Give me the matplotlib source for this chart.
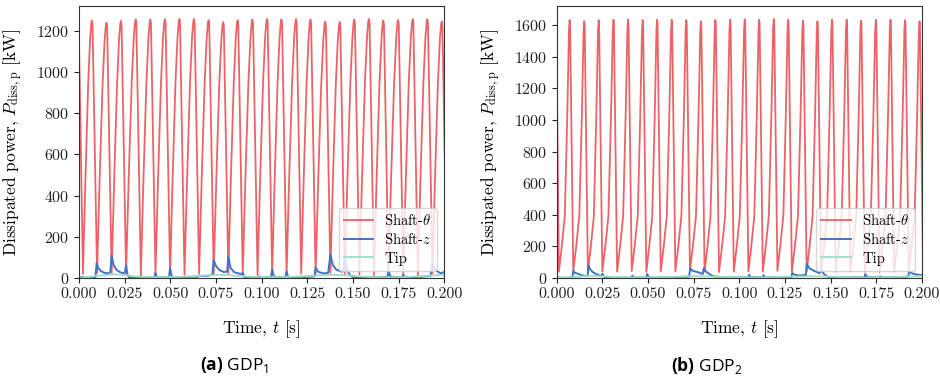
import matplotlib
matplotlib.use("Agg")
import matplotlib.pyplot as plt
import numpy as np

plt.rcParams["font.family"] = "serif"
plt.rcParams["font.serif"] = ["cmr10"]
plt.rcParams["mathtext.fontset"] = "cm"
plt.rcParams["mathtext.rm"] = "Open Sans"
plt.rcParams["mathtext.bf"] = "Open Sans:bold"
plt.rcParams["axes.formatter.use_mathtext"] = True

# ---- data ----
# Shaft-theta: peak instants are shared by both designs
peak_t = [0.0071, 0.0151, 0.0230, 0.0311, 0.0391, 0.0471, 0.0550, 0.0630, 0.0710,
          0.0790, 0.0869, 0.0950, 0.1030, 0.1109, 0.1189, 0.1268, 0.1349, 0.1428,
          0.1508, 0.1588, 0.1667, 0.1748, 0.1828, 0.1908, 0.1987]

# GDP1
gdp1_start = 1160
gdp1_peak = [1250, 1240, 1248, 1255, 1255, 1257, 1258, 1258, 1252, 1242, 1252, 1255, 1258,
             1255, 1257, 1255, 1245, 1243, 1255, 1258, 1250, 1253, 1256, 1256, 1246]
gdp1_trough_t = [0.0022, 0.0099, 0.0179, 0.0258, 0.0339, 0.0419, 0.0499, 0.0578, 0.0658,
                 0.0738, 0.0818, 0.0897, 0.0978, 0.1058, 0.1137, 0.1217, 0.1296, 0.1377,
                 0.1456, 0.1536, 0.1616, 0.1695, 0.1776, 0.1856, 0.1936, 0.2015]
gdp1_trough = [20, 25, 18, 22, 15, 20, 18, 15, 20, 22, 20, 18, 15,
               20, 18, 22, 20, 25, 15, 18, 15, 20, 18, 15, 22, 20]
# shape of one cycle: (fraction of rise/fall time, fraction of peak height)
gdp1_rise_shape = [(0.27, 0.37), (0.58, 0.75), (0.80, 0.93), (0.93, 0.99)]
gdp1_fall_shape = [(0.12, 0.985)]

gdp1_z_t = [0.0, 0.0020, 0.0026, 0.0090, 0.0097, 0.0105, 0.0120, 0.0140, 0.0160, 0.0172,
            0.0179, 0.0190, 0.0205, 0.0225, 0.0245, 0.0252, 0.0258, 0.0266, 0.0275, 0.0335,
            0.0339, 0.0345, 0.0413, 0.0419, 0.0426, 0.0493, 0.0499, 0.0508, 0.0520, 0.0578,
            0.0585, 0.0650, 0.0658, 0.0700, 0.0730, 0.0738, 0.0750, 0.0770, 0.0795, 0.0812,
            0.0818, 0.0830, 0.0850, 0.0890, 0.0897, 0.0905, 0.0920, 0.0978, 0.0985, 0.1000,
            0.1052, 0.1058, 0.1066, 0.1080, 0.1130, 0.1137, 0.1145, 0.1210, 0.1217, 0.1225,
            0.1290, 0.1296, 0.1310, 0.1340, 0.1365, 0.1377, 0.1390, 0.1410, 0.1440, 0.1450,
            0.1456, 0.1468, 0.1485, 0.1500, 0.1536, 0.1545, 0.1610, 0.1616, 0.1625, 0.1690,
            0.1695, 0.1705, 0.1720, 0.1770, 0.1776, 0.1785, 0.1850, 0.1856, 0.1865, 0.1925,
            0.1936, 0.1950, 0.1970, 0.1985, 0.2000]
gdp1_z = [2, 5, 2, 3, 72, 50, 33, 25, 22, 30,
          110, 62, 40, 28, 22, 30, 62, 15, 3, 3,
          10, 3, 3, 25, 4, 4, 48, 8, 3, 3,
          5, 6, 10, 10, 15, 88, 58, 38, 28, 32,
          104, 50, 28, 18, 25, 5, 3, 4, 8, 3,
          5, 42, 10, 4, 4, 32, 5, 4, 8, 4,
          8, 50, 30, 22, 25, 115, 62, 40, 30, 40,
          95, 40, 12, 4, 3, 3, 3, 6, 3, 5,
          38, 8, 4, 4, 15, 4, 4, 8, 5, 10,
          68, 40, 28, 22, 30]

gdp1_tip_t = [0.0, 0.005, 0.010, 0.015, 0.020, 0.025, 0.030, 0.035, 0.045, 0.055, 0.062,
              0.068, 0.075, 0.082, 0.088, 0.095, 0.105, 0.115, 0.122, 0.130, 0.138, 0.145,
              0.152, 0.160, 0.170, 0.180, 0.188, 0.195, 0.200]
gdp1_tip = [0, 4, 10, 15, 18, 15, 8, 5, 4, 5, 8,
            12, 15, 14, 9, 5, 4, 5, 8, 12, 15, 14,
            9, 4, 3, 5, 9, 13, 16]

# GDP2
gdp2_start = 1390
gdp2_peak = [1632, 1624, 1632, 1634, 1634, 1632, 1634, 1634, 1632, 1624, 1632, 1634, 1636,
             1634, 1639, 1634, 1628, 1624, 1634, 1634, 1628, 1634, 1634, 1632, 1624]
gdp2_trough_t = [0.0012, 0.0091, 0.0171, 0.0250, 0.0331, 0.0411, 0.0491, 0.0570, 0.0650,
                 0.0730, 0.0810, 0.0889, 0.0970, 0.1050, 0.1129, 0.1209, 0.1288, 0.1369,
                 0.1448, 0.1528, 0.1608, 0.1687, 0.1768, 0.1848, 0.1928, 0.2007]
gdp2_trough = [40, 45, 38, 42, 40, 44, 38, 40, 42, 45, 40, 38, 40,
               42, 40, 45, 40, 42, 38, 40, 42, 40, 38, 40, 42, 40]
gdp2_rise_shape = [(0.27, 0.10), (0.55, 0.22), (0.78, 0.62), (0.94, 0.96)]
gdp2_fall_shape = [(0.12, 0.985)]

gdp2_z_t = [0.0, 0.0012, 0.0020, 0.0085, 0.0092, 0.0100, 0.0115, 0.0135, 0.0160, 0.0170,
            0.0174, 0.0185, 0.0200, 0.0225, 0.0245, 0.0250, 0.0258, 0.0270, 0.0411, 0.0415,
            0.0422, 0.0491, 0.0495, 0.0505, 0.0520, 0.0650, 0.0660, 0.0725, 0.0732, 0.0745,
            0.0770, 0.0800, 0.0806, 0.0818, 0.0840, 0.0860, 0.0889, 0.0895, 0.1050, 0.1054,
            0.1062, 0.1129, 0.1133, 0.1140, 0.1285, 0.1290, 0.1300, 0.1330, 0.1365, 0.1370,
            0.1385, 0.1410, 0.1440, 0.1448, 0.1460, 0.1480, 0.1500, 0.1687, 0.1690, 0.1700,
            0.1768, 0.1772, 0.1780, 0.1925, 0.1930, 0.1945, 0.1970, 0.2000]
gdp2_z = [1, 3, 1, 2, 45, 32, 28, 18, 12, 15,
          80, 52, 35, 20, 12, 28, 8, 2, 2, 15,
          3, 3, 25, 5, 2, 4, 6, 8, 60, 45,
          38, 25, 62, 40, 22, 10, 8, 3, 3, 20,
          5, 4, 18, 3, 5, 32, 22, 15, 20, 88,
          60, 45, 30, 60, 30, 10, 3, 4, 25, 5,
          3, 10, 3, 8, 40, 30, 22, 18]

gdp2_tip_t = [0.0, 0.005, 0.010, 0.015, 0.020, 0.025, 0.030, 0.035, 0.045, 0.055, 0.062,
              0.068, 0.075, 0.082, 0.088, 0.095, 0.105, 0.115, 0.122, 0.130, 0.138, 0.145,
              0.152, 0.160, 0.170, 0.180, 0.188, 0.195, 0.200]
gdp2_tip = [0, 3, 7, 11, 13, 11, 6, 4, 3, 4, 6,
            9, 11, 10, 7, 4, 3, 4, 6, 9, 11, 10,
            7, 3, 2, 4, 7, 10, 12]

labels = [r"Shaft-$\theta$", r"Shaft-$z$", "Tip"]
captions = [r"$\mathbf{(a)}\;\mathrm{GDP}_1$", r"$\mathbf{(b)}\;\mathrm{GDP}_2$"]

RED = "#e8474c"
BLUE = "#3f73c8"
GREEN = "#9fdcc6"


def theta_series(start, peaks, troughs_t, troughs, rise_shape, fall_shape):
    t = [0.0, troughs_t[0]]
    p = [start, troughs[0]]
    for i, (tp, pk) in enumerate(zip(peak_t, peaks)):
        t0, lo = troughs_t[i], troughs[i]
        for f, h in rise_shape:
            t.append(t0 + f * (tp - t0))
            p.append(lo + h * (pk - lo))
        t.append(tp)
        p.append(pk)
        t1, lo1 = troughs_t[i + 1], troughs[i + 1]
        for f, h in fall_shape:
            t.append(tp + f * (t1 - tp))
            p.append(lo1 + h * (pk - lo1))
        t.append(t1)
        p.append(lo1)
    return t, p


panels = [
    (theta_series(gdp1_start, gdp1_peak, gdp1_trough_t, gdp1_trough,
                  gdp1_rise_shape, gdp1_fall_shape),
     (gdp1_z_t, gdp1_z), (gdp1_tip_t, gdp1_tip)),
    (theta_series(gdp2_start, gdp2_peak, gdp2_trough_t, gdp2_trough,
                  gdp2_rise_shape, gdp2_fall_shape),
     (gdp2_z_t, gdp2_z), (gdp2_tip_t, gdp2_tip)),
]

fig = plt.figure(figsize=(9.4, 3.78), dpi=100)
lefts = [0.084, 0.5922]
for i, ((tt, pt), (tz, pz), (tw, pw)) in enumerate(panels):
    ax = fig.add_axes([lefts[i], 0.2646, 0.3885, 0.7196])
    ax.plot(tt, pt, color=RED, lw=1.3, alpha=0.85, label=labels[0])
    ax.plot(tz, pz, color=BLUE, lw=1.4, label=labels[1])
    ax.plot(tw, pw, color=GREEN, lw=1.3, label=labels[2])
    ax.set_xlim(0, 0.2)
    ax.set_ylim(bottom=0)
    ax.set_xticks(np.arange(0, 0.2001, 0.025))
    ax.yaxis.set_major_locator(matplotlib.ticker.MultipleLocator(200))
    ax.xaxis.set_major_formatter(matplotlib.ticker.FormatStrFormatter("%.3f"))
    ax.tick_params(labelsize=11.5, colors="#222222")
    for s in ax.spines.values():
        s.set_color("#333333")
    ax.set_xlabel(r"Time, $t$ [s]", fontsize=12.5, labelpad=12)
    ax.set_ylabel(r"Dissipated power, $P_{\mathrm{diss,p}}$ [kW]", fontsize=12.5, labelpad=8)
    ax.legend(loc="lower right", fontsize=10.5, labelspacing=0.3, borderpad=0.35)
    fig.text(0.249 + 0.503 * i, 0.034, captions[i], ha="center", va="center",
             fontsize=12.5, math_fontfamily="custom")

fig.savefig("out.png", dpi=100)
